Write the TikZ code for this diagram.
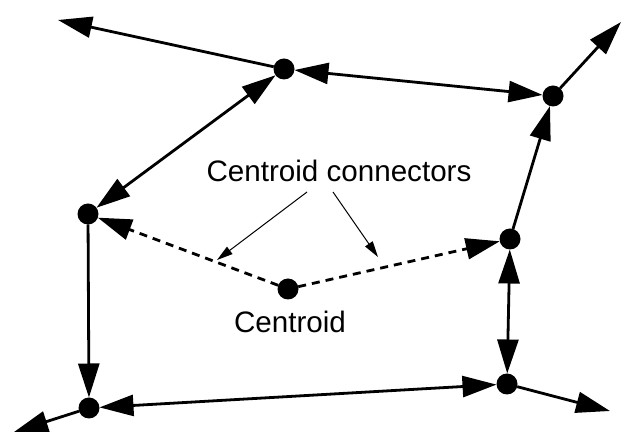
\documentclass[tikz,border=0pt]{standalone}
\usepackage{fontspec}
\setmainfont{Liberation Sans}
\usetikzlibrary{arrows.meta}

\tikzset{
    dot/.style = { circle, fill=black, inner sep=0pt, minimum size=10.5pt, outer sep=0pt },
    link/.style = { line width=1.4pt, >={Triangle[length=17pt, width=10.5pt]} },
    dlink/.style = { link, dash pattern=on 4pt off 3pt },
    hint/.style = { line width=0.5pt, ->, >={Triangle[length=8pt, width=4.5pt]} },
    lbl/.style = { font=\fontsize{14.8}{17}\selectfont, inner sep=0pt }
}

\begin{document}
\begin{tikzpicture}[x=0.5pt, y=-0.5pt]
            \useasboundingbox ( 0, 0 ) rectangle ( 622, 432 );

            % узлы
            \node [dot] (a) at ( 284, 69 ) {};
            \node [dot] (b) at ( 553, 96 ) {};
            \node [dot] (c) at ( 88, 214 ) {};
            \node [dot] (d) at ( 510, 239 ) {};
            \node [dot] (e) at ( 288, 289 ) {};
            \node [dot] (f) at ( 89, 408 ) {};
            \node [dot] (g) at ( 507, 384 ) {};

            % свободные концы
            \coordinate (tl) at ( 58, 20 );
            \coordinate (tr) at ( 621, 22 );
            \coordinate (bl) at ( 14, 432 );
            \coordinate (br) at ( 610, 411 );

            % связи
            \draw [link, ->] (a) -- (tl);
            \draw [link, <->] (a) -- (b);
            \draw [link, <->] (a) -- (c);
            \draw [link, ->] (d) -- (b);
            \draw [link, ->] (b) -- (tr);
            \draw [link, ->] (c) -- (f);
            \draw [link, <->] (f) -- (g);
            \draw [link, <->] (g) -- (d);
            \draw [link, ->] (g) -- (br);
            \draw [link, ->] (f) -- (bl);

            % центроид
            \draw [dlink, ->] (e) -- (c);
            \draw [dlink, ->] (e) -- (d);

            % подписи
            \node [lbl] (cc) at ( 339, 171 ) {Centroid connectors};
            \node [lbl] (cn) at ( 290, 322 ) {Centroid};
            \coordinate (p1) at ( 307, 192 );
            \coordinate (p2) at ( 333, 192 );
            \coordinate (q1) at ( 217, 260 );
            \coordinate (q2) at ( 378, 257 );
            \draw [hint] (p1) -- (q1);
            \draw [hint] (p2) -- (q2);
        \end{tikzpicture}
\end{document}
